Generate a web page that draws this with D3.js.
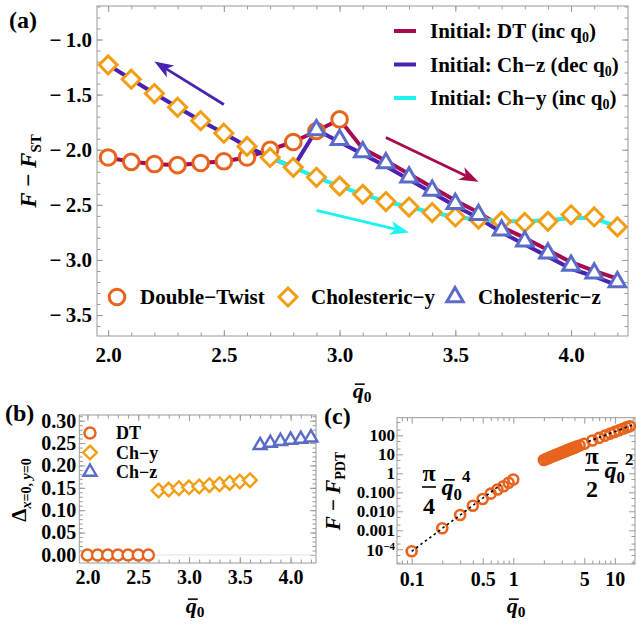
<!DOCTYPE html>
<html>
<head>
<meta charset="utf-8">
<script src="https://cdn.jsdelivr.net/npm/d3@7"></script>
<style>
body { margin: 0; background: #fff; }
</style>
</head>
<body>
<script>
// ---------- panel (a) data ----------
var qA = [2.0,2.1,2.2,2.3,2.4,2.5,2.6,2.7,2.8,2.9,3.0,3.1,3.2,3.3,3.4,3.5,3.6,3.7,3.8,3.9,4.0,4.1,4.2];
var dtQ = qA.slice(0, 11);
var dtF = [-2.07,-2.11,-2.13,-2.14,-2.12,-2.105,-2.07,-2.0,-1.93,-1.83,-1.725];
var chyF = [-1.23,-1.36,-1.49,-1.615,-1.737,-1.85,-1.97,-2.07,-2.16,-2.25,-2.33,-2.405,-2.47,-2.52,-2.57,-2.61,-2.63,-2.65,-2.66,-2.65,-2.59,-2.61,-2.70];
var chzQ = qA.slice(9);
var chzF = [-1.82,-1.91,-2.02,-2.12,-2.25,-2.37,-2.49,-2.59,-2.73,-2.83,-2.94,-3.05,-3.12,-3.20];
// continuation lines
var lineDtF = [-2.07,-2.11,-2.13,-2.14,-2.12,-2.105,-2.07,-2.0,-1.93,-1.83,-1.725,-1.99,-2.10,-2.22,-2.34,-2.46,-2.57,-2.70,-2.80,-2.91,-3.02,-3.10,-3.17];
var lineChzF = [-1.23,-1.36,-1.49,-1.615,-1.737,-1.85,-1.97,-2.07,-2.16,-1.82,-1.93,-2.04,-2.15,-2.27,-2.39,-2.51,-2.62,-2.75,-2.86,-2.97,-3.08,-3.15,-3.23];
var lineChyQ = qA.slice(7);
var lineChyF = [-2.07,-2.16,-2.25,-2.33,-2.405,-2.47,-2.52,-2.57,-2.61,-2.63,-2.65,-2.65,-2.64,-2.62,-2.62,-2.70];
var aXTicks = [2.0,2.5,3.0,3.5,4.0];
var aYTicks = [-3.5,-3.0,-2.5,-2.0,-1.5,-1.0];
// direction arrows (data coords): from, to
var arrowFrom = [[2.50,-1.59],[3.20,-1.89],[2.90,-2.55]];
var arrowTo   = [[2.20,-1.20],[3.60,-2.29],[3.30,-2.75]];
var legendLines = ["Initial: DT (inc ","Initial: Ch\u2212z (dec ","Initial: Ch\u2212y (inc "];
var legendMarks = ["Double\u2212Twist","Cholesteric\u2212y","Cholesteric\u2212z"];

// ---------- panel (b) data ----------
var bDtQ = [2.0,2.1,2.2,2.3,2.4,2.5,2.6];
var bDtD = [0,0,0,0,0,0,0];
var bChyQ = [2.7,2.8,2.9,3.0,3.1,3.2,3.3,3.4,3.5,3.6];
var bChyD = [0.144,0.146,0.149,0.151,0.153,0.156,0.158,0.161,0.164,0.167];
var bChzQ = [3.7,3.8,3.9,4.0,4.1,4.2];
var bChzD = [0.245,0.250,0.254,0.257,0.259,0.262];
var bYTicks = [0,0.05,0.10,0.15,0.20,0.25,0.30];
var bLegend = ["DT","Ch\u2212y","Ch\u2212z"];

// ---------- panel (c) data ----------
var cSmallQ = [0.1,0.2,0.3,0.4,0.5,0.6,0.7,0.8,0.9,1.0];
var cSmallF = [7.9e-5,1.28e-3,6.4e-3,0.0196,0.044,0.085,0.14,0.21,0.32,0.47];
var cBigQ = [2.0,2.1,2.2,2.3,2.4,2.5,2.6,2.7,2.8,2.9,3.0,3.1,3.2,3.3,3.4,3.5,3.6,3.7,3.8,3.9,4.0,4.1,4.2,4.5,5,6,7,8,9,10,11,12,13,14];
var cBigF = [5.0,5.6,6.2,6.9,7.6,8.3,9.0,9.8,10.6,11.4,12.3,13.2,14.1,15.1,16.1,17.1,18.2,19.3,20.4,21.6,22.8,24.0,25.3,29,36,53,73,96,123,152,185,221,260,302];
var fitSmallQ = [0.1,0.75], fitSmallF = [7.85e-5,0.2485];
var fitBigQ = [5.5,15.5], fitBigF = [47.5,377];
var cXTicks = [0.1,0.5,1,5,10];
var cYTicks = [1e-4,1e-3,1e-2,0.1,1,10,100];
var cYLabels = ["", "0.001","0.010","0.100","1","10","100"];

// ---------- styles ----------
var FONT = '"Liberation Serif","Times New Roman",Times,serif';
var C_DT = "#E8641E", C_CHY = "#F29E12", C_CHZ = "#5B6CC8";
var L_DT = "#A80A50", L_CHZ = "#4A22B2", L_CHY = "#1FF2F2";
var GRAY = "#9a9a9a";

var svg = d3.select("body").append("svg")
	.attr("width", 636).attr("height", 626)
	.attr("font-family", FONT).attr("font-weight", "bold");

function marker(g, shape, cx, cy, s, color, sw, fill) {
	var el;
	if (shape === "circle") {
		el = g.append("circle").attr("cx", cx).attr("cy", cy).attr("r", s);
	} else if (shape === "diamond") {
		el = g.append("path").attr("d", "M" + cx + "," + (cy - s) + "L" + (cx + s) + "," + cy + "L" + cx + "," + (cy + s) + "L" + (cx - s) + "," + cy + "Z");
	} else {
		el = g.append("path").attr("d", "M" + cx + "," + (cy - s) + "L" + (cx + s * 0.866) + "," + (cy + s / 2) + "L" + (cx - s * 0.866) + "," + (cy + s / 2) + "Z");
	}
	el.attr("fill", fill || "white").attr("stroke", color).attr("stroke-width", sw).attr("stroke-linejoin", "miter");
}

function frame(g, x, y, o) {
	var x0 = x.range()[0], x1 = x.range()[1], yb = y.range()[0], yt = y.range()[1];
	function ax(fn, scale, vals, len, fmt, pad, tr, fs) {
		var a = fn(scale).tickValues(vals).tickSizeInner(-len).tickSizeOuter(0).tickPadding(pad).tickFormat(fmt);
		var s = g.append("g").attr("transform", tr).call(a)
			.attr("font-family", FONT).attr("font-size", fs || o.fs).attr("font-weight", "bold")
			.attr("color", GRAY);
		s.select(".domain").remove();
		s.selectAll("text").attr("fill", "#000");
		return s;
	}
	var none = function() { return ""; };
	ax(d3.axisBottom, x, o.xMinor, 3.5, none, 0, "translate(0," + yb + ")");
	ax(d3.axisTop, x, o.xMinor, 3.5, none, 0, "translate(0," + yt + ")");
	ax(d3.axisLeft, y, o.yMinor, 3.5, none, 0, "translate(" + x0 + ",0)");
	ax(d3.axisRight, y, o.yMinor, 3.5, none, 0, "translate(" + x1 + ",0)");
	ax(d3.axisBottom, x, o.xMajor, 6, o.xFmt, o.xPad, "translate(0," + yb + ")");
	ax(d3.axisTop, x, o.xMajor, 6, none, 0, "translate(0," + yt + ")");
	ax(d3.axisLeft, y, o.yMajor, 6, o.yFmt, o.yPad, "translate(" + x0 + ",0)", o.yfs);
	ax(d3.axisRight, y, o.yMajor, 6, none, 0, "translate(" + x1 + ",0)");
	g.append("rect").attr("x", x0).attr("y", yt).attr("width", x1 - x0).attr("height", yb - yt)
		.attr("fill", "none").attr("stroke", GRAY).attr("stroke-width", 1);
}

function arrow(g, x1, y1, x2, y2, color) {
	var dx = x2 - x1, dy = y2 - y1, L = Math.hypot(dx, dy), ux = dx / L, uy = dy / L, px = -uy, py = ux;
	var hl = 19, hw = 7, notch = 5;
	var bx = x2 - ux * hl, by = y2 - uy * hl;
	g.append("line").attr("x1", x1).attr("y1", y1).attr("x2", x2 - ux * (hl - notch)).attr("y2", y2 - uy * (hl - notch))
		.attr("stroke", color).attr("stroke-width", 2.8);
	g.append("path").attr("d", "M" + x2 + "," + y2 + "L" + (bx + px * hw) + "," + (by + py * hw) +
		"L" + (x2 - ux * (hl - notch)) + "," + (y2 - uy * (hl - notch)) + "L" + (bx - px * hw) + "," + (by - py * hw) + "Z")
		.attr("fill", color);
}

// q-bar with subscript 0 (centred at cx, baseline y)
function qbar(g, cx, y, size, sup) {
	var w = size * (0.5 + 0.35 + (sup ? 0.35 : 0));
	var left = cx - w / 2;
	var t = g.append("text").attr("x", left).attr("y", y).attr("font-size", size);
	t.append("tspan").attr("font-style", "italic").text("q");
	t.append("tspan").attr("font-size", size * 0.7).attr("dy", size * 0.2).text("0");
	if (sup) t.append("tspan").attr("font-size", size * 0.7).attr("dy", -size * 0.75).text(sup);
	g.append("line").attr("x1", left + size * 0.1).attr("x2", left + size * 0.55)
		.attr("y1", y - size * 0.63).attr("y2", y - size * 0.63)
		.attr("stroke", "#000").attr("stroke-width", size * 0.07);
}

var minus = function(d) { return d < 0 ? "\u2212\u2009" : ""; };

// ================= panel (a) =================
var gA = svg.append("g");
var xA = d3.scaleLinear().domain([1.952, 4.246]).range([97, 628]);
var yA = d3.scaleLinear().domain([-3.69, -0.696]).range([336, 6]);
frame(gA, xA, yA, {
	fs: 21, xPad: 11, yPad: 5,
	xMajor: aXTicks, yMajor: aYTicks,
	xMinor: d3.range(20, 43).map(function(d) { return d / 10; }),
	yMinor: d3.range(-36, -6).map(function(d) { return d / 10; }),
	xFmt: function(d) { return d.toFixed(1); },
	yFmt: function(d) { return minus(d) + Math.abs(d).toFixed(1); }
});

var line = d3.line().x(function(d) { return xA(d[0]); }).y(function(d) { return yA(d[1]); });
gA.append("path").datum(d3.zip(qA, lineDtF)).attr("d", line).attr("fill", "none").attr("stroke", L_DT).attr("stroke-width", 4).attr("stroke-linejoin", "round");
gA.append("path").datum(d3.zip(qA, lineChzF)).attr("d", line).attr("fill", "none").attr("stroke", L_CHZ).attr("stroke-width", 4).attr("stroke-linejoin", "round");
gA.append("path").datum(d3.zip(lineChyQ, lineChyF)).attr("d", line).attr("fill", "none").attr("stroke", L_CHY).attr("stroke-width", 4).attr("stroke-linejoin", "round");

var arrowCols = [L_CHZ, L_DT, L_CHY];
arrowFrom.forEach(function(f, i) {
	arrow(gA, xA(f[0]), yA(f[1]), xA(arrowTo[i][0]), yA(arrowTo[i][1]), arrowCols[i]);
});

dtQ.forEach(function(q, i) { marker(gA, "circle", xA(q), yA(dtF[i]), 7.8, C_DT, 3); });
qA.forEach(function(q, i) { marker(gA, "diamond", xA(q), yA(chyF[i]), 9, C_CHY, 3); });
chzQ.forEach(function(q, i) { marker(gA, "triangle", xA(q), yA(chzF[i]), 9.5, C_CHZ, 3); });

// top-right legend
var legCols = [L_DT, L_CHZ, L_CHY];
legendLines.forEach(function(s, i) {
	var y = 31 + i * 33.5;
	gA.append("line").attr("x1", 394).attr("x2", 416).attr("y1", y).attr("y2", y).attr("stroke", legCols[i]).attr("stroke-width", 4);
	var t = gA.append("text").attr("x", 430).attr("y", y + 7).attr("font-size", 21);
	t.append("tspan").text(s + "q");
	t.append("tspan").attr("font-size", 14).attr("dy", 4).text("0");
	t.append("tspan").attr("dy", -4).text(")");
});
// bottom legend
var legShapes = ["circle", "diamond", "triangle"], legMk = [C_DT, C_CHY, C_CHZ];
var legX = [117, 288, 455], legSz = [7.8, 9, 9.5];
legendMarks.forEach(function(s, i) {
	marker(gA, legShapes[i], legX[i], 297, legSz[i], legMk[i], 3);
	gA.append("text").attr("x", legX[i] + 23).attr("y", 304).attr("font-size", 21).text(s);
});

gA.append("text").attr("x", 9).attr("y", 28).attr("font-size", 24).text("(a)");
var yl = gA.append("text").attr("transform", "translate(36,171) rotate(-90)").attr("text-anchor", "middle").attr("font-size", 23);
yl.append("tspan").attr("font-style", "italic").text("F");
yl.append("tspan").text(" \u2212 ");
yl.append("tspan").attr("font-style", "italic").text("F");
yl.append("tspan").attr("font-size", 15).attr("dy", 5).text("ST");
qbar(gA, 362, 398, 22);

// ================= panel (b) =================
var gB = svg.append("g");
var xB = d3.scaleLinear().domain([1.92, 4.25]).range([79.3, 316]);
var yB = d3.scaleLinear().domain([-0.018, 0.3127]).range([563, 415]);
frame(gB, xB, yB, {
	fs: 20, xPad: 7, yPad: 3,
	xMajor: aXTicks, yMajor: bYTicks,
	xMinor: d3.range(20, 43).map(function(d) { return d / 10; }),
	yMinor: d3.range(0, 32).map(function(d) { return d / 100; }),
	xFmt: function(d) { return d.toFixed(1); },
	yFmt: function(d) { return d.toFixed(2); }
});
gB.append("line").attr("x1", xB.range()[0]).attr("x2", xB.range()[1]).attr("y1", yB(0)).attr("y2", yB(0)).attr("stroke", "#e4e4e4");
bDtQ.forEach(function(q, i) { marker(gB, "circle", xB(q), yB(bDtD[i]), 5.5, C_DT, 2.4); });
bChyQ.forEach(function(q, i) { marker(gB, "diamond", xB(q), yB(bChyD[i]), 6.8, C_CHY, 2.4); });
bChzQ.forEach(function(q, i) { marker(gB, "triangle", xB(q), yB(bChzD[i]), 7.5, C_CHZ, 2.4); });
var bSz = [5.5, 6.8, 7.5];
bLegend.forEach(function(s, i) {
	var y = 433 + i * 19.5;
	marker(gB, legShapes[i], 90, y, bSz[i], legMk[i], 2.4);
	gB.append("text").attr("x", 116).attr("y", y + 6).attr("font-size", 18).text(s);
});
gB.append("text").attr("x", 5).attr("y", 421).attr("font-size", 24).text("(b)");
var dl = gB.append("text").attr("transform", "translate(26,490) rotate(-90)").attr("text-anchor", "middle").attr("font-size", 21);
dl.append("tspan").text("\u0394");
var sub = dl.append("tspan").attr("font-size", 14).attr("dy", 5);
sub.append("tspan").attr("font-style", "italic").text("x");
sub.append("tspan").text("=0, ");
sub.append("tspan").attr("font-style", "italic").text("y");
sub.append("tspan").text("=0");
qbar(gB, 195, 613, 22);

// ================= panel (c) =================
var gC = svg.append("g");
var xC = d3.scaleLog().domain([0.0717, 15.78]).range([397, 635]);
var yC = d3.scaleLog().domain([1.683e-5, 844]).range([564, 417.7]);
frame(gC, xC, yC, {
	fs: 20, yfs: 17, xPad: 8, yPad: 2,
	xMajor: cXTicks, yMajor: cYTicks,
	xMinor: [0.08,0.09,0.2,0.3,0.4,0.6,0.7,0.8,0.9,2,3,4,6,7,8,9,15],
	yMinor: [2e-5,5e-5,2e-4,5e-4,2e-3,5e-3,2e-2,5e-2,0.2,0.5,2,5,20,50,200,500],
	xFmt: function(d) { return String(d); },
	yFmt: function(d, i) { return cYLabels[i]; }
});
// 10^-4 label
var t4 = gC.append("text").attr("x", 395).attr("y", yC(1e-4) + 7).attr("text-anchor", "end").attr("font-size", 17);
t4.append("tspan").text("10");
t4.append("tspan").attr("font-size", 11).attr("dy", -6).text("\u22124");

var lineC = d3.line().x(function(d) { return xC(d[0]); }).y(function(d) { return yC(d[1]); });
cSmallQ.forEach(function(q, i) { marker(gC, "circle", xC(q), yC(cSmallF[i]), 5, C_DT, 2.6, "none"); });
cBigQ.forEach(function(q, i) { marker(gC, "circle", xC(q), yC(cBigF[i]), 5, C_DT, 2.6, "none"); });
gC.append("path").datum(d3.zip(fitSmallQ, fitSmallF)).attr("d", lineC).attr("fill", "none").attr("stroke", "#000").attr("stroke-width", 1.6).attr("stroke-dasharray", "2.5,3");
gC.append("path").datum(d3.zip(fitBigQ, fitBigF)).attr("d", lineC).attr("fill", "none").attr("stroke", "#000").attr("stroke-width", 1.6).attr("stroke-dasharray", "2.5,3");

function frac(g, cx, barY, den, sup) {
	g.append("text").attr("x", cx).attr("y", barY - 6).attr("text-anchor", "middle").attr("font-size", 24).text("\u03c0");
	g.append("line").attr("x1", cx - 7).attr("x2", cx + 7).attr("y1", barY).attr("y2", barY).attr("stroke", "#000").attr("stroke-width", 1.6);
	g.append("text").attr("x", cx).attr("y", barY + 27).attr("text-anchor", "middle").attr("font-size", 24).text(den);
	qbar(g, cx + 27, barY + 8, 24, sup);
}
frac(gC, 429, 487, "4", "4");
frac(gC, 592, 470, "2", "2");

gC.append("text").attr("x", 324).attr("y", 424).attr("font-size", 24).text("(c)");
var fl = gC.append("text").attr("transform", "translate(340,491) rotate(-90)").attr("text-anchor", "middle").attr("font-size", 21);
fl.append("tspan").attr("font-style", "italic").text("F");
fl.append("tspan").text(" \u2212 ");
fl.append("tspan").attr("font-style", "italic").text("F");
fl.append("tspan").attr("font-size", 14).attr("dy", 5).text("PDT");
qbar(gC, 516, 613, 22);
</script>
</body>
</html>
